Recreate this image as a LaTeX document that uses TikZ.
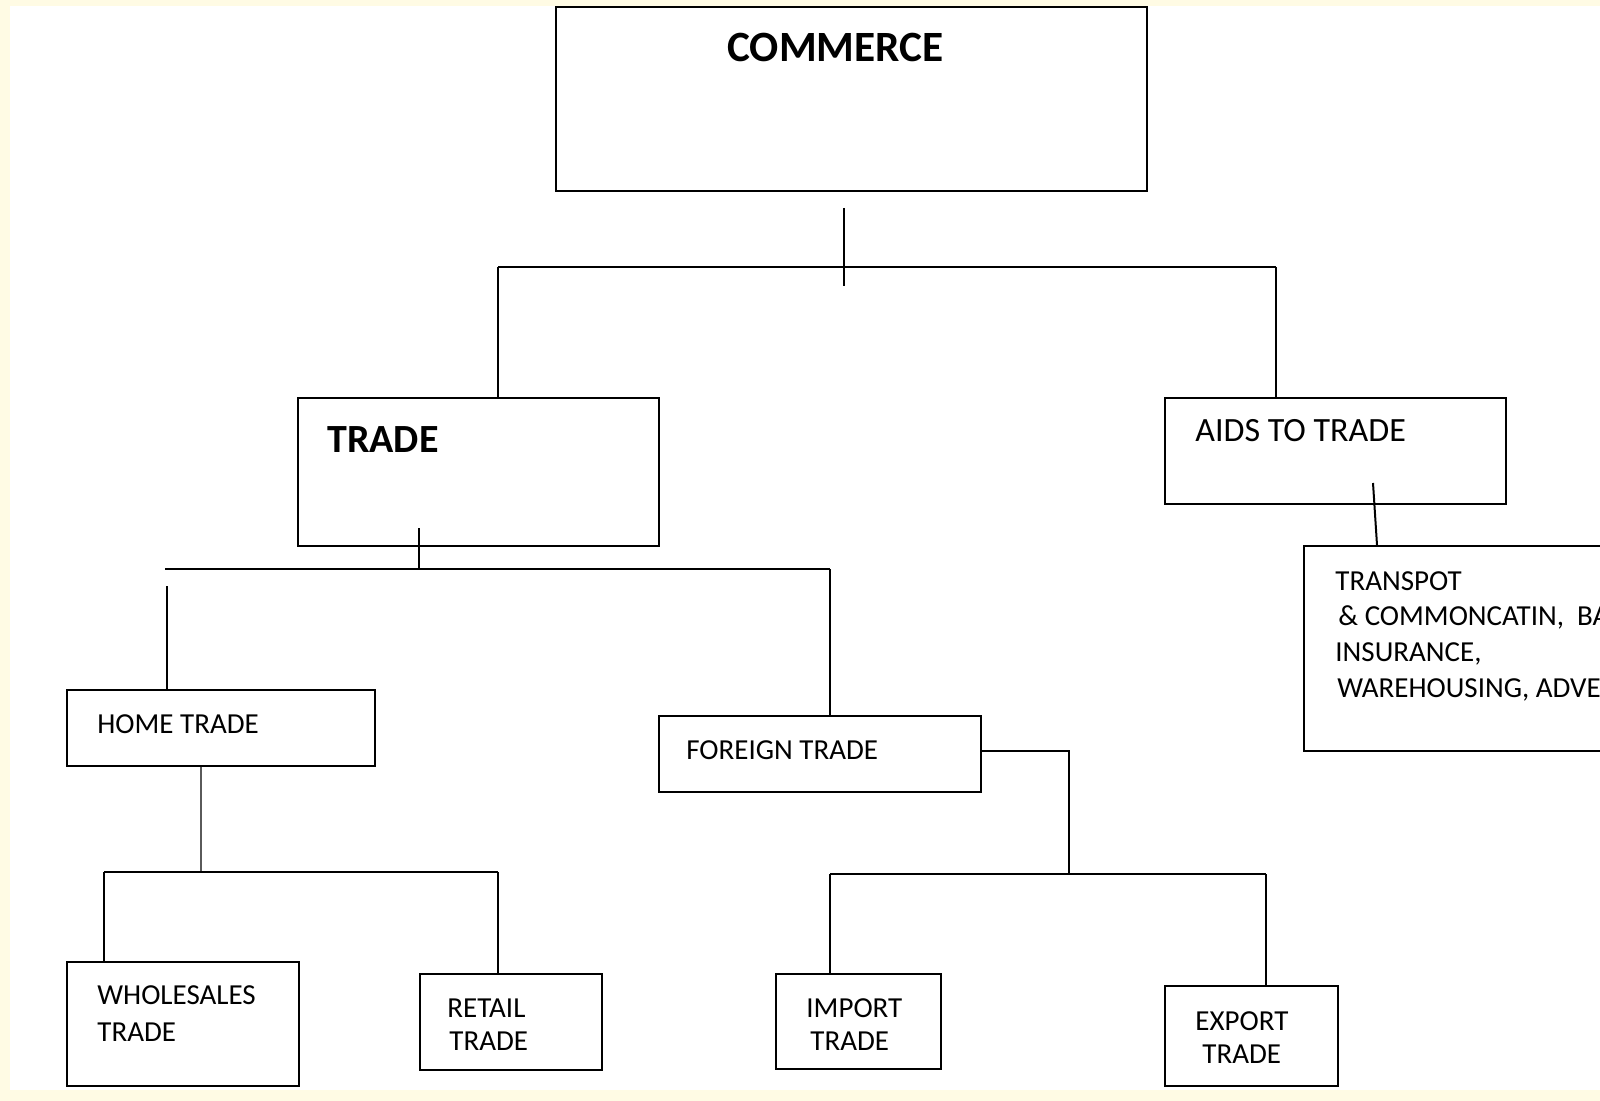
\documentclass[tikz,border=0pt]{standalone}
\usepackage{fontspec}
\setmainfont{Carlito}
\definecolor{cream}{RGB}{255,251,228}
\definecolor{greyline}{RGB}{90,90,90}
\tikzset{
  box/.style={draw=black, line width=1pt, inner sep=0pt, anchor=north west, fill=white},
  conn/.style={draw=black, line width=1pt},
  lbl/.style={anchor=base west, inner sep=0pt, font=\fontsize{14.5pt}{17pt}\selectfont},
  biglbl/.style={anchor=base west, inner sep=0pt, font=\fontsize{17pt}{20pt}\selectfont},
  headlbl/.style={anchor=base west, inner sep=0pt, font=\bfseries\fontsize{21.6pt}{25pt}\selectfont},
  tradelbl/.style={anchor=base west, inner sep=0pt, font=\bfseries\fontsize{20pt}{24pt}\selectfont},
}
\newcommand{\mybox}[5]{\node[box, minimum width={(#4-#2)*0.5pt}, minimum height={(#5-#3)*0.5pt}] (#1) at (#2,#3) {};}
\begin{document}
\begin{tikzpicture}[x=0.5pt,y=-0.5pt]
\useasboundingbox (0,0) rectangle (1600,1101);
\clip (0,0) rectangle (1600,1101);
\fill[cream] (0,0) rectangle (1600,1101);
\fill[white] (10,6) rectangle (1600,1090);

% boxes
\mybox{commerce}{555}{6}{1146}{190}
\mybox{trade}{297}{397}{658}{545}
\mybox{aids}{1164}{397}{1505}{503}
\mybox{transp}{1303}{545}{1630}{750}
\mybox{home}{66}{689}{374}{765}
\mybox{foreign}{658}{715}{980}{791}
\mybox{whole}{66}{961}{298}{1085}
\mybox{retail}{419}{973}{601}{1069}
\mybox{import}{775}{973}{940}{1068}
\mybox{export}{1164}{985}{1337}{1085}

% labels
\node[headlbl] (tcommerce) at (727,62) {COMMERCE};
\node[tradelbl] (ttrade) at (327,452) {TRADE};
\node[biglbl] (taids) at (1195,442) {AIDS TO TRADE};
\node[lbl] (thome) at (97,733) {HOME TRADE};
\node[lbl] (tforeign) at (686,759) {FOREIGN TRADE};
\node[lbl] (twhole1) at (97,1004) {WHOLESALES};
\node[lbl] (twhole2) at (97,1041) {TRADE};
\node[lbl] (tretail1) at (447,1017) {RETAIL};
\node[lbl] (tretail2) at (449,1050) {TRADE};
\node[lbl] (timport1) at (806,1017) {IMPORT};
\node[lbl] (timport2) at (810,1050) {TRADE};
\node[lbl] (texport1) at (1195,1030) {EXPORT};
\node[lbl] (texport2) at (1202,1063) {TRADE};
\node[lbl] (ttr1) at (1335,590) {TRANSPOT};
\node[lbl] (ttr2) at (1338,625) {\&\ COMMONCATIN,\ \ BA};
\node[lbl] (ttr3) at (1335,661) {INSURANCE,};
\node[lbl] (ttr4) at (1337,697) {WAREHOUSING, ADVE};

% connector coordinates
\coordinate (cTop) at (844,208);
\coordinate (cBot) at (844,286);
\coordinate (hL) at (498,267);
\coordinate (hR) at (1276,267);
\coordinate (tTop) at (419,528);
\coordinate (tL) at (165,569);
\coordinate (tR) at (830,569);
\coordinate (homeTop) at (167,586);
\coordinate (hmJ) at (201,872);
\coordinate (hmL) at (104,872);
\coordinate (hmR) at (498,872);
\coordinate (fgE) at (1069,751);
\coordinate (fgJ) at (1069,874);
\coordinate (fgL) at (830,874);
\coordinate (fgR) at (1266,874);
\coordinate (aidsTop) at (1373,483);

% commerce level
\draw[conn] (cTop) -- (cBot);
\draw[conn] (hL) -- (hR);
\draw[conn] (hL) -- (hL |- trade.north);
\draw[conn] (hR) -- (hR |- aids.north);
% trade level
\draw[conn] (tTop) -- (tTop |- tL);
\draw[conn] (tL) -- (tR);
\draw[conn] (homeTop) -- (homeTop |- home.north);
\draw[conn] (tR) -- (tR |- foreign.north);
% home trade level
\draw[conn, draw=greyline] (hmJ |- home.south) -- (hmJ);
\draw[conn] (hmL) -- (hmR);
\draw[conn] (hmL) -- (hmL |- whole.north);
\draw[conn] (hmR) -- (hmR |- retail.north);
% foreign trade level
\draw[conn] (foreign.east |- fgE) -- (fgE) -- (fgJ);
\draw[conn] (fgL) -- (fgR);
\draw[conn] (fgL) -- (fgL |- import.north);
\draw[conn] (fgR) -- (fgR |- export.north);
% aids to trade
\draw[conn] (aidsTop) -- (1377,0 |- transp.north);
\end{tikzpicture}
\end{document}
